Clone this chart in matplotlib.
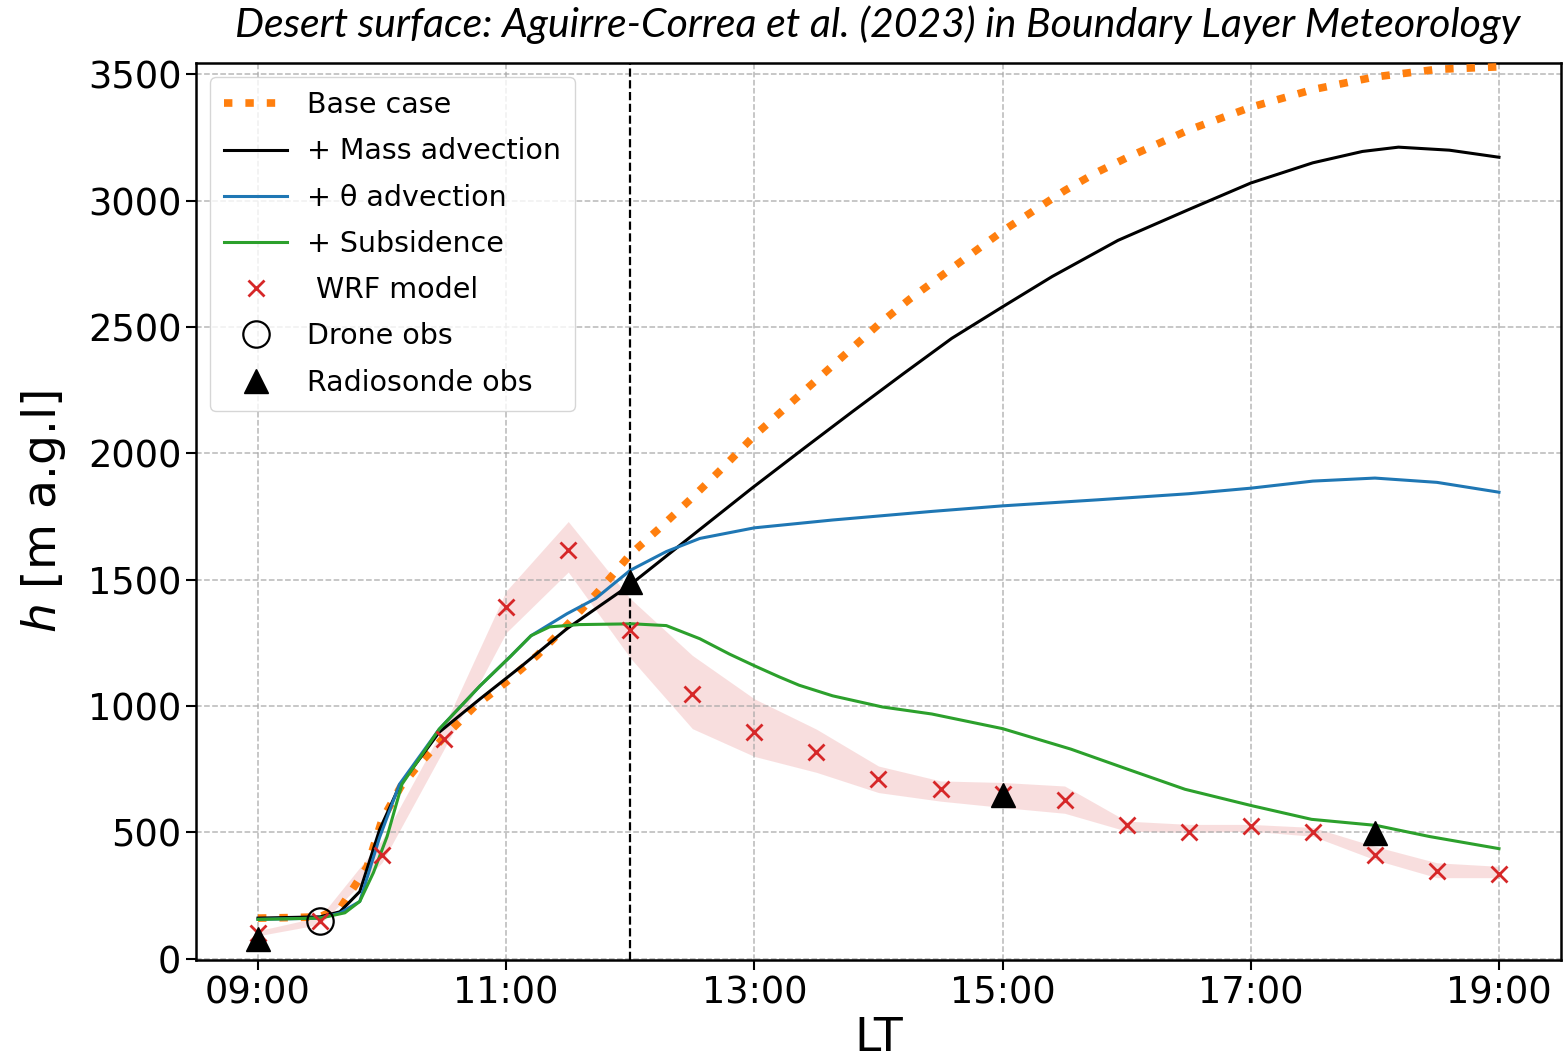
import matplotlib
matplotlib.use("Agg")
import matplotlib.pyplot as plt
from matplotlib.ticker import FixedLocator

# time in decimal hours (LT), h in m a.g.l.
t_base = [9.0, 9.25, 9.5, 9.67, 9.88, 10.0, 10.15, 10.3, 10.5, 10.75, 11.0, 11.25, 11.5, 11.75,
          12.0, 12.25, 12.5, 12.75, 13.0, 13.25, 13.5, 13.75, 14.0, 14.25, 14.5, 14.75, 15.0,
          15.25, 15.5, 15.75, 16.0, 16.5, 17.0, 17.5, 18.0, 18.5, 19.0]
h_base = [160, 162, 165, 205, 364, 550, 680, 770, 877, 1000, 1094, 1200, 1325, 1457,
          1600, 1710, 1825, 1945, 2070, 2180, 2290, 2400, 2510, 2610, 2700, 2790, 2880,
          2960, 3040, 3110, 3170, 3280, 3370, 3440, 3490, 3520, 3530]

t_mass = [9.0, 9.5, 9.66, 9.82, 9.98, 10.14, 10.46, 10.79, 11.13, 11.49, 12.0, 12.5, 12.98,
          13.4, 13.79, 14.2, 14.59, 15.0, 15.4, 15.93, 16.5, 17.0, 17.5, 17.9, 18.19, 18.6, 19.0]
h_mass = [160, 165, 185, 265, 510, 683, 896, 1028, 1160, 1306, 1480, 1675, 1862,
          2020, 2165, 2315, 2455, 2580, 2700, 2843, 2965, 3070, 3150, 3195, 3212, 3200, 3172]

t_theta = [9.0, 9.5, 9.66, 9.82, 9.98, 10.14, 10.46, 10.79, 11.03, 11.2, 11.49, 11.72, 12.0,
           12.29, 12.56, 13.0, 13.63, 14.43, 15.0, 15.77, 16.5, 17.0, 17.5, 18.0, 18.5, 19.0]
h_theta = [155, 160, 180, 226, 480, 690, 908, 1080, 1194, 1278, 1365, 1425, 1537,
           1611, 1663, 1705, 1736, 1770, 1792, 1816, 1840, 1862, 1890, 1902, 1885, 1846]

t_subs = [9.0, 9.5, 9.7, 9.82, 9.93, 10.04, 10.16, 10.46, 10.79, 11.03, 11.2, 11.35, 11.59,
          12.02, 12.29, 12.56, 12.8, 13.0, 13.2, 13.36, 13.63, 14.03, 14.43, 15.0, 15.55,
          16.01, 16.47, 17.0, 17.49, 18.01, 18.44, 19.0]
h_subs = [155, 160, 181, 226, 340, 483, 690, 908, 1080, 1194, 1278, 1313, 1322,
          1325, 1318, 1266, 1205, 1159, 1115, 1082, 1040, 996, 968, 910, 829,
          749, 670, 606, 551, 527, 483, 435]

t_wrf = [9.0, 9.5, 10.0, 10.5, 11.0, 11.5, 12.0, 12.5, 13.0, 13.5, 14.0, 14.5, 15.0,
         15.5, 16.0, 16.5, 17.0, 17.5, 18.0, 18.5, 19.0]
h_wrf = [100, 150, 411, 868, 1393, 1616, 1299, 1047, 896, 816, 710, 670, 650,
         627, 527, 500, 523, 500, 411, 345, 336]
wrf_lo = [90, 135, 380, 830, 1290, 1530, 1190, 910, 800, 737, 657, 623, 598,
          575, 504, 499, 504, 484, 391, 320, 320]
wrf_hi = [110, 165, 470, 920, 1455, 1730, 1425, 1200, 1028, 908, 762, 703, 697,
          683, 544, 531, 531, 519, 444, 379, 365]

t_drone = [9.5]
h_drone = [150]

t_sonde = [9.0, 12.0, 15.0, 18.0]
h_sonde = [78, 1492, 646, 498]

xticks = [9, 11, 13, 15, 17, 19]
xticklabels = ["09:00", "11:00", "13:00", "15:00", "17:00", "19:00"]
yticks = [0, 500, 1000, 1500, 2000, 2500, 3000, 3500]

fig = plt.figure(figsize=(15.64, 10.64), dpi=100)
ax = fig.add_axes([0.1253, 0.0977, 0.8728, 0.8433])

ax.fill_between(t_wrf, wrf_lo, wrf_hi, color="tab:red", alpha=0.15, lw=0, zorder=1)
ax.plot(t_base, h_base, color="tab:orange", lw=5.5, linestyle=(0, (1.1, 1.7)),
        label="Base case", zorder=3)
ax.plot(t_mass, h_mass, color="black", lw=2.2, label="+ Mass advection", zorder=4)
ax.plot(t_theta, h_theta, color="tab:blue", lw=2.2, label="+ θ advection", zorder=4)
ax.plot(t_subs, h_subs, color="tab:green", lw=2.2, label="+ Subsidence", zorder=5)
ax.plot(t_wrf, h_wrf, "x", color="tab:red", ms=11, mew=2, label=" WRF model", zorder=6)
ax.plot(t_drone, h_drone, "o", mfc="none", mec="black", ms=19, mew=1.6,
        label="Drone obs", zorder=7)
ax.plot(t_sonde, h_sonde, "^", color="black", ms=17, label="Radiosonde obs", zorder=7)
ax.axvline(12, color="black", lw=1.6, linestyle="--", zorder=2)

ax.set_xlim(8.5, 19.5)
ax.set_ylim(-6, 3546)
ax.xaxis.set_major_locator(FixedLocator(xticks))
ax.set_xticklabels(xticklabels)
ax.set_yticks(yticks)
ax.tick_params(labelsize=26.5, length=7, width=1.5)
ax.grid(True, linestyle="--", color="0.65", lw=1.1, alpha=0.8)
for s in ax.spines.values():
    s.set_linewidth(1.8)

ax.set_xlabel("LT", fontsize=34, labelpad=3)
ax.set_ylabel("$h$ [m a.g.l]", fontsize=34, labelpad=14)

leg = ax.legend(loc="upper left", fontsize=20.5, handlelength=2.2, handletextpad=0.7,
                labelspacing=0.64, borderpad=0.5, framealpha=0.8, edgecolor="0.8")

fig.text(0.561, 0.977, "Desert surface: Aguirre-Correa et al. (2023) in Boundary Layer Meteorology",
         ha="center", va="center", fontsize=29.5, style="italic", family=["Lato", "DejaVu Sans"])

fig.savefig("out.png", dpi=100)
